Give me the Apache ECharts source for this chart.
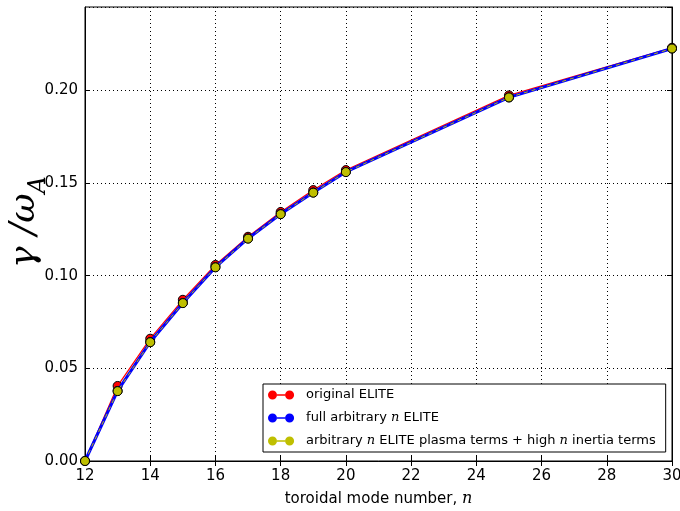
<!DOCTYPE html>
<html>
<head>
<meta charset="utf-8">
<script src="https://cdn.jsdelivr.net/npm/echarts@6/dist/echarts.min.js"></script>
<style>
  html, body { margin: 0; padding: 0; background: #fff; }
  #chart { width: 680px; height: 511px; }
</style>
</head>
<body>
<div id="chart"></div>
<script>
// toroidal mode numbers
var modeN = [12, 13, 14, 15, 16, 17, 18, 19, 20, 25, 30];
// growth rates gamma/omega_A
var originalElite = [0.0, 0.0405, 0.0660, 0.0870, 0.1058, 0.1210, 0.1344, 0.1462, 0.1570, 0.1973, 0.2230];
var fullArbitrary = [0.0, 0.0378, 0.0642, 0.0853, 0.1046, 0.1201, 0.1333, 0.1449, 0.1560, 0.1962, 0.2226];
var plasmaInertia = [0.0, 0.0377, 0.0641, 0.0852, 0.1045, 0.1200, 0.1332, 0.1448, 0.1559, 0.1962, 0.2226];

var names = ['original ELITE', 'full arbitrary n ELITE', 'arbitrary n ELITE plasma terms + high n inertia terms'];

function pairs(ys) {
    return modeN.map(function (n, i) { return [n, ys[i]]; });
}

// two circles joined by a line, like the matplotlib legend handle
var legendIcon = 'path://M5,0a5,5 0 1,0 0.001,0zM10,4.3h9v1.4h-9zM24,0a5,5 0 1,0 0.001,0z';

var chart = echarts.init(document.getElementById('chart'));

var frameLine = { show: true, lineStyle: { color: '#000', width: 1 } };
var frameTick = { show: true, inside: true, length: 5, lineStyle: { color: '#000' } };
var dotted = { show: true, lineStyle: { color: '#000', type: [1, 3], width: 1 } };

chart.setOption({
    animation: false,
    textStyle: { fontFamily: 'DejaVu Sans', color: '#000' },
    grid: {
        left: 85, right: 8, top: 7, bottom: 50,
        outerBoundsMode: 'none',
        show: true, borderColor: '#000', borderWidth: 1
    },
    legend: {
        orient: 'vertical',
        left: 263,
        top: 384,
        padding: [4, 10, 4, 5],
        itemGap: 9,
        itemWidth: 28,
        itemHeight: 9,
        backgroundColor: '#fff',
        borderColor: '#000',
        borderWidth: 1,
        borderRadius: 0,
        icon: legendIcon,
        itemStyle: { borderWidth: 0 },
        textStyle: {
            fontSize: 13,
            color: '#000',
            lineHeight: 14,
            padding: [0, 0, 0, 6],
            rich: { i: { fontFamily: 'DejaVu Serif', fontStyle: 'italic', fontSize: 13 } }
        },
        formatter: function (name) { return name.replace(/ n /g, ' {i|n} '); },
        data: names
    },
    xAxis: [{
        type: 'value', min: 12, max: 30, interval: 2,
        axisLine: frameLine, axisTick: frameTick,
        axisLabel: { fontSize: 15, color: '#000', margin: 8 },
        splitLine: dotted,
        name: '{a|toroidal mode number, }{i|n}',
        nameLocation: 'middle',
        nameGap: 30,
        nameMoveOverlap: false,
        nameTextStyle: {
            rich: {
                a: { fontSize: 15, color: '#000' },
                i: { fontSize: 16, color: '#000', fontFamily: 'DejaVu Serif', fontStyle: 'italic' }
            }
        }
    }, {
        type: 'value', min: 12, max: 30, interval: 2, position: 'top',
        axisLine: frameLine, axisTick: frameTick,
        axisLabel: { show: false }, splitLine: { show: false }
    }],
    yAxis: [{
        type: 'value', min: 0, max: 0.245, interval: 0.05,
        axisLine: frameLine, axisTick: frameTick,
        axisLabel: {
            fontSize: 15, color: '#000', margin: 7, showMaxLabel: false,
            formatter: function (v) { return v.toFixed(2); }
        },
        splitLine: dotted,
        name: '{g|γ /ω}{s|A}',
        nameLocation: 'middle',
        nameRotate: 90,
        nameGap: 42,
        nameMoveOverlap: false,
        nameTextStyle: {
            padding: [0, 0, 0, 24],
            rich: {
                g: { fontSize: 36, color: '#000', fontFamily: 'DejaVu Serif', fontStyle: 'italic' },
                s: { fontSize: 24, color: '#000', fontFamily: 'DejaVu Serif', fontStyle: 'italic', verticalAlign: 'bottom', padding: [0, 0, -8, 0] }
            }
        }
    }, {
        type: 'value', min: 0, max: 0.245, interval: 0.05, position: 'right',
        axisLine: frameLine, axisTick: frameTick,
        axisLabel: { show: false }, splitLine: { show: false }
    }],
    series: [{
        name: names[0], type: 'line', data: pairs(originalElite),
        symbol: 'circle', symbolSize: 9, z: 2,
        lineStyle: { color: '#ff0000', width: 1.2 },
        itemStyle: { color: '#ff0000', borderColor: '#000', borderWidth: 1 }
    }, {
        name: names[1], type: 'line', data: pairs(fullArbitrary),
        symbol: 'circle', symbolSize: 9, z: 3,
        lineStyle: { color: '#0000ff', width: 3 },
        itemStyle: { color: '#0000ff', borderColor: '#000', borderWidth: 1 }
    }, {
        name: names[2], type: 'line', data: pairs(plasmaInertia),
        symbol: 'circle', symbolSize: 9, z: 4,
        lineStyle: { color: '#bfbf00', width: 1, type: [4, 4] },
        itemStyle: { color: '#bfbf00', borderColor: '#000', borderWidth: 1 }
    }]
});
</script>
</body>
</html>
